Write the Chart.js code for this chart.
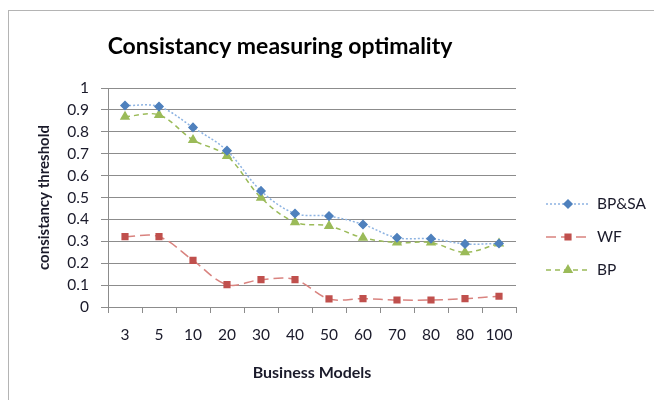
<!DOCTYPE html>
<html>
<head>
<meta charset="utf-8">
<script src="https://cdn.jsdelivr.net/npm/chart.js@4"></script>
<style>
  html, body { margin: 0; padding: 0; background: #fff; }
  #wrap { position: relative; width: 654px; height: 400px; overflow: hidden; }
  #frame { position: absolute; left: 8px; top: 10px; width: 700px; height: 450px; border: 1px solid #b4b4b4; }
  canvas { position: absolute; left: 0; top: 0; }
</style>
</head>
<body>
<div id="wrap">
  <div id="frame"></div>
  <canvas id="chart" width="654" height="400"></canvas>
</div>
<script>
const ctx = document.getElementById("chart").getContext("2d");

// Data
const models = ['3', '5', '10', '20', '30', '40', '50', '60', '70', '80', '80', '100'];
const bpsa = [0.92, 0.915, 0.82, 0.714, 0.53, 0.427, 0.415, 0.377, 0.316, 0.312, 0.288, 0.29];
const wf = [0.321, 0.321, 0.213, 0.102, 0.125, 0.125, 0.037, 0.038, 0.032, 0.032, 0.038, 0.049];
const bp = [0.869, 0.877, 0.763, 0.69, 0.499, 0.387, 0.37, 0.316, 0.294, 0.294, 0.25, 0.29];
const yTicks = [0, 0.1, 0.2, 0.3, 0.4, 0.5, 0.6, 0.7, 0.8, 0.9, 1];

const FONT = "Lato, 'Noto Sans', sans-serif";
const TEXT = '#1a1a2a';

// Title drawn at Excel-like offset
const titlePlugin = {
  id: 'excelTitle',
  afterDraw(chart) {
    const c = chart.ctx;
    c.save();
    c.font = "bold 23px " + FONT;
    c.fillStyle = '#000';
    c.textAlign = 'center';
    c.textBaseline = 'middle';
    c.fillText('Consistancy measuring optimality', 280, 47);
    c.restore();
  }
};

// Legend with line + marker, like Excel
const legendPlugin = {
  id: 'excelLegend',
  afterDraw(chart) {
    const c = chart.ctx;
    const rows = [204, 237, 270];
    chart.data.datasets.forEach((ds, i) => {
      const y = rows[i];
      c.save();
      c.strokeStyle = ds.borderColor;
      c.lineWidth = ds.borderWidth;
      c.setLineDash(ds.borderDash);
      c.beginPath();
      c.moveTo(546, y);
      c.lineTo(590, y);
      c.stroke();
      c.setLineDash([]);
      c.fillStyle = ds.pointBackgroundColor;
      c.strokeStyle = ds.pointBorderColor;
      Chart.helpers.drawPoint(c, {
        pointStyle: ds.pointStyle,
        radius: ds.pointRadius,
        borderWidth: 1
      }, 568, y);
      c.restore();
      c.save();
      c.font = "15.5px " + FONT;
      c.fillStyle = TEXT;
      c.textBaseline = 'middle';
      c.fillText(ds.label, 597, y);
      c.restore();
    });
  }
};

new Chart(ctx, {
  type: 'line',
  data: {
    labels: models,
    datasets: [
      {
        label: 'BP&SA', data: bpsa,
        borderColor: '#8db3e2', borderWidth: 1.5, borderDash: [2, 2],
        pointStyle: 'rectRot', pointRadius: 4,
        pointBackgroundColor: '#4f81bd', pointBorderColor: '#4f81bd',
        tension: 0.35
      },
      {
        label: 'WF', data: wf,
        borderColor: '#d9837f', borderWidth: 1.5, borderDash: [10, 5],
        pointStyle: 'rect', pointRadius: 4,
        pointBackgroundColor: '#c0504d', pointBorderColor: '#c0504d',
        tension: 0.35
      },
      {
        label: 'BP', data: bp,
        borderColor: '#9bbb59', borderWidth: 1.5, borderDash: [5, 4],
        pointStyle: 'triangle', pointRadius: 4.5,
        pointBackgroundColor: '#9bbb59', pointBorderColor: '#9bbb59',
        tension: 0.35
      }
    ]
  },
  options: {
    responsive: false,
    animation: false,
    layout: { padding: { top: 88, right: 138, left: 0, bottom: 0 } },
    plugins: {
      legend: { display: false },
      tooltip: { enabled: false },
      title: { display: false }
    },
    scales: {
      x: {
        offset: true,
        grid: { offset: true, drawOnChartArea: false, tickLength: 6, color: '#8c8c8c' },
        border: { color: '#8c8c8c' },
        ticks: { font: { family: FONT, size: 15.5 }, color: TEXT, padding: 13, maxRotation: 0 },
        title: { display: true, text: 'Business Models', font: { family: FONT, size: 16, weight: 'bold' }, color: TEXT, padding: { top: 0, bottom: 18 } },
        afterFit(scale) { scale.height = 93; }
      },
      y: {
        min: 0, max: 1,
        afterBuildTicks(scale) { scale.ticks = yTicks.map(v => ({ value: v })); },
        grid: { color: '#8c8c8c', tickLength: 7 },
        border: { color: '#8c8c8c' },
        ticks: { font: { family: FONT, size: 15.5 }, color: TEXT, padding: 12, callback: v => String(v) },
        title: { display: true, text: 'consistancy threshold', font: { family: FONT, size: 15, weight: 'bold' }, color: TEXT, padding: { top: 35, bottom: 0 } },
        afterFit(scale) { scale.width = 108; }
      }
    }
  },
  plugins: [titlePlugin, legendPlugin]
});
</script>
</body>
</html>
